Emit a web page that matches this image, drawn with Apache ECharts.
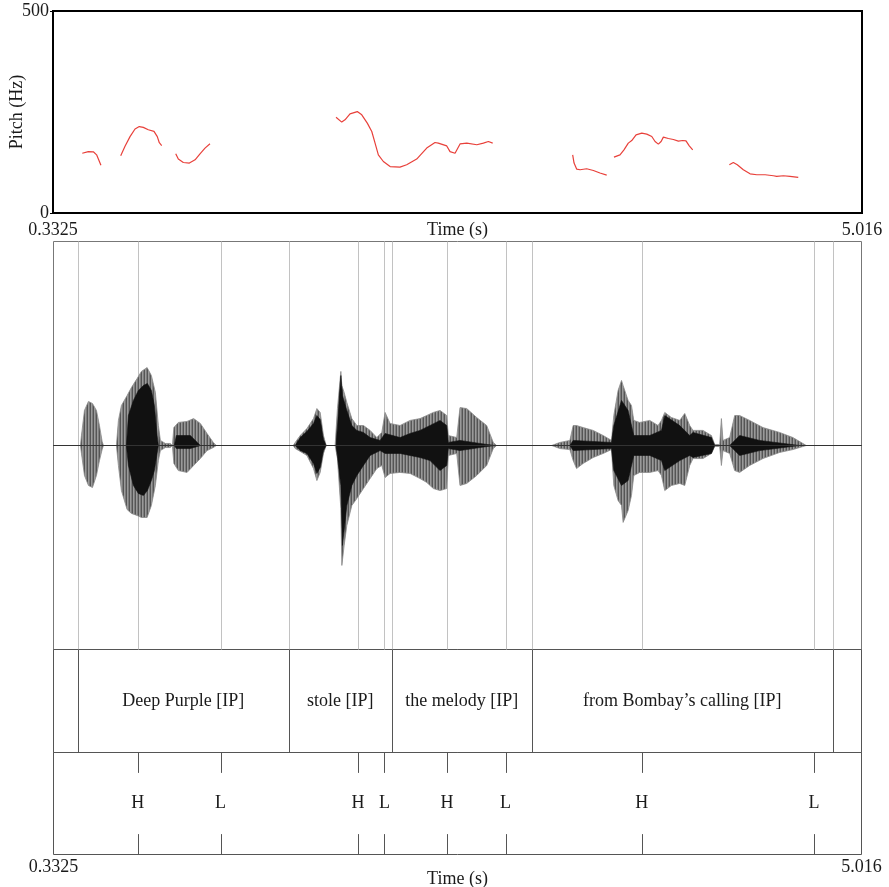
<!DOCTYPE html>
<html><head><meta charset="utf-8">
<script src="https://cdn.jsdelivr.net/npm/echarts@6/dist/echarts.min.js"></script>
<style>html,body{margin:0;padding:0;background:#fff}#c{width:889px;height:887px}</style>
</head><body><div id="c"></div>
<script>
// ---------- data ----------
const tMin = 0.3325, tMax = 5.016;
const timeTickLabels = ['0.3325', '5.016'];
const pitchTickValues = [0, 500];

// pitch contours (null = gap)
const pitchTime = [0.502,0.537,0.566,0.585,0.597,0.610, null,
  0.7245,0.7494,0.7784,0.8073,0.832,0.8553,0.8842,0.9172,0.9363,0.948,0.9618, null,
  1.043,1.058,1.087,1.122,1.155,1.1835,1.2125,1.2414, null,
  1.971,2.004,2.023,2.052,2.094,2.120,2.152,2.178,2.197,2.216,2.245,2.284,2.341,2.380,2.438,2.496,2.544,2.563,2.612,2.631,2.660,2.689,2.728,2.786,2.824,2.853,2.878, null,
  3.341,3.349,3.364,3.384,3.422,3.461,3.499,3.538, null,
  3.580,3.615,3.638,3.663,3.683,3.708,3.741,3.770,3.799,3.818,3.837,3.853,3.866,3.895,3.924,3.953,3.978,3.997,4.016,4.036, null,
  4.248,4.271,4.294,4.329,4.368,4.407,4.455,4.503,4.522,4.561,4.599,4.647];
const pitchHz = [148,152,151.5,144,132,118, null,
  142,165,189,208,214,212,206,202,189,174,167, null,
  146.6,133.5,125,123.6,131.7,146.6,160.6,171.3, null,
  237,225,230.6,245.4,251,243,222.4,201.7,173,144,127.5,115,113.7,119.4,133.5,160.6,174.5,173,166,152,148,171,173,169,173,177,173, null,
  144,123.6,108.7,107,109.5,105.3,98.9,93.9, null,
  138.4,144,156.4,173,179.4,193.5,197.7,195.3,189.3,177,170.5,177,187.8,184.4,182,178,179.4,178.7,166.3,156.4, null,
  119.4,125,119.4,107,97,94.7,94.7,92.2,90.5,92.2,90.5,88];

// waveform outer envelope (relative amplitude)
const waveTime = [0.3325,
  0.4888,0.4946,0.5120,0.5351,0.5583,0.5814,0.5988,0.6144,0.6220,
  0.6972,0.7088,0.7262,0.7592,0.7841,0.8171,0.8420,0.8750,0.8999,0.9230,0.9404,0.9520,0.9810,1.0099,1.0215,
  1.0302,1.0562,1.1066,1.1448,1.1836,1.2224,1.2588,1.2762,
  1.7220,1.7336,1.7625,1.8013,1.8395,1.8592,1.8783,1.8974,1.9130,
  1.9650,1.9784,1.9981,2.0039,2.0172,2.0328,2.0618,2.0907,2.1290,2.1677,2.2065,2.2355,2.2546,2.2835,2.3414,2.3993,2.4572,2.4960,2.5342,2.5730,2.6118,2.6210,2.6697,2.6888,2.7276,2.7855,2.8434,2.8816,2.9012,
  3.2197,3.2677,3.3256,3.3447,3.3644,3.4026,3.4605,3.5184,3.5670,3.5803,3.6052,3.6249,3.6342,3.6631,3.6828,3.6961,3.7309,3.7888,3.8368,3.8565,3.8756,3.9144,3.9624,3.9914,4.0203,4.0394,4.0973,4.1460,4.1651,4.1940,4.2039,4.2131,4.2519,4.2809,4.3098,4.3677,4.4447,4.5414,4.6184,4.6960,
  5.016];
const waveUpper = [0,
  0,0.049,0.172,0.216,0.206,0.172,0.098,0.020,0,
  0,0.123,0.196,0.245,0.284,0.328,0.363,0.382,0.343,0.260,0.098,0.025,0.010,0.010,0,
  0.088,0.113,0.118,0.132,0.108,0.059,0.015,0,
  0,0.015,0.049,0.083,0.132,0.181,0.162,0.049,0,
  0,0.181,0.363,0.294,0.260,0.211,0.132,0.098,0.098,0.074,0.039,0.064,0.162,0.108,0.098,0.123,0.132,0.147,0.162,0.172,0.147,0.049,0.039,0.186,0.181,0.137,0.098,0.015,0,
  0,0.015,0.025,0.098,0.098,0.088,0.074,0.049,0.025,0.147,0.270,0.319,0.294,0.221,0.196,0.123,0.113,0.123,0.098,0.123,0.162,0.137,0.123,0.157,0.098,0.074,0.074,0.049,0.005,0.005,0.132,0.025,0.039,0.147,0.147,0.123,0.088,0.064,0.039,0,
  0];
const waveLower = [0,
  0,-0.039,-0.147,-0.196,-0.206,-0.147,-0.074,-0.020,0,
  0,-0.098,-0.221,-0.314,-0.333,-0.343,-0.353,-0.353,-0.294,-0.196,-0.074,-0.025,-0.010,-0.010,0,
  -0.088,-0.123,-0.132,-0.098,-0.064,-0.025,-0.010,0,
  0,-0.015,-0.029,-0.049,-0.113,-0.172,-0.132,-0.039,0,
  0,-0.064,-0.309,-0.588,-0.490,-0.392,-0.294,-0.260,-0.211,-0.162,-0.113,-0.098,-0.157,-0.137,-0.132,-0.137,-0.162,-0.181,-0.211,-0.221,-0.211,-0.049,-0.039,-0.196,-0.186,-0.147,-0.098,-0.015,0,
  0,-0.015,-0.020,-0.074,-0.113,-0.088,-0.059,-0.039,-0.020,-0.196,-0.270,-0.294,-0.377,-0.319,-0.245,-0.147,-0.132,-0.132,-0.123,-0.147,-0.221,-0.196,-0.186,-0.196,-0.098,-0.064,-0.064,-0.039,-0.005,-0.005,-0.098,-0.025,-0.039,-0.123,-0.132,-0.098,-0.064,-0.034,-0.020,0,
  0];

// waveform dense (dark) core envelope
const coreTime = [0.3325,
  0.7551,0.7667,0.7957,0.8246,0.8536,0.8767,0.8999,0.9172,0.9329,0.9404,
  1.0330,1.0446,1.1257,1.1662,1.1836,
  1.7336,1.7625,1.8013,1.8395,1.8592,1.8783,1.8974,1.9130,
  1.9709,1.9981,2.0073,2.0328,2.0618,2.0907,2.1290,2.1677,2.2256,2.2546,2.3414,2.3993,2.4572,2.5151,2.5730,2.6118,2.6210,2.6888,2.8045,2.8914,
  3.3256,3.3447,3.5670,3.5803,3.6249,3.6631,3.6961,3.7888,3.8565,3.8756,3.9624,4.0203,4.0394,4.1460,4.1651,4.2519,4.3098,4.4256,4.6572,
  5.016];
const coreUpper = [0,
  0,0.147,0.221,0.270,0.294,0.304,0.270,0.196,0.049,0,
  0,0.049,0.049,0.015,0,
  0,0.039,0.069,0.108,0.147,0.127,0.029,0,
  0,0.343,0.245,0.172,0.098,0.074,0.064,0.039,0.025,0.059,0.039,0.059,0.074,0.098,0.123,0.098,0.015,0.025,0.010,0,
  0,0.025,0.015,0.098,0.221,0.172,0.049,0.049,0.074,0.147,0.098,0.049,0.064,0.039,0,0,0.049,0.025,0,
  0];
const coreLower = [0,
  0,-0.098,-0.196,-0.235,-0.245,-0.221,-0.172,-0.123,-0.039,0,
  0,-0.015,-0.015,-0.005,0,
  0,-0.025,-0.039,-0.088,-0.137,-0.108,-0.025,0,
  0,-0.196,-0.490,-0.294,-0.196,-0.147,-0.098,-0.049,-0.025,-0.039,-0.039,-0.049,-0.059,-0.074,-0.123,-0.098,-0.015,-0.025,-0.010,0,
  0,-0.025,-0.015,-0.123,-0.196,-0.172,-0.049,-0.049,-0.074,-0.123,-0.074,-0.049,-0.059,-0.039,0,0,-0.049,-0.025,0,
  0];

// TextGrid tiers
const wordBounds = [0.473, 1.695, 2.293, 3.104, 4.850];
const wordLabels = ['', 'Deep Purple [IP]', 'stole [IP]', 'the melody [IP]', 'from Bombay\u2019s calling [IP]', ''];
const toneTimes = [0.8205, 1.301, 2.097, 2.251, 2.613, 2.953, 3.742, 4.740];
const toneLabels = ['H', 'L', 'H', 'L', 'H', 'L', 'H', 'L'];

// ---------- chart ----------
const FONT = '"Liberation Serif","Times New Roman",serif';
const TXT = '#1a1a1a';
const chart = echarts.init(document.getElementById('c'), null, {renderer: 'canvas'});

// striated fill pattern imitating dense glottal pulses
const pat = document.createElement('canvas');
pat.width = 3; pat.height = 4;
(function () {
  const g = pat.getContext('2d');
  g.fillStyle = '#9a9a9a'; g.fillRect(0, 0, 3, 4);
  g.fillStyle = '#555'; g.fillRect(0, 0, 1, 4);
  g.fillStyle = '#7c7c7c'; g.fillRect(2, 0, 1, 4);
})();
const waveFill = {image: pat, repeat: 'repeat'};

const pitchData = pitchTime.map((t, i) => t === null ? '-' : [t, pitchHz[i]]);
const zip = (a, b) => a.map((t, i) => [t, b[i]]);
const crisp = v => Math.round(v) + 0.5;

const wordEdges = [tMin].concat(wordBounds, [tMax]);
const wordIntervals = wordLabels.map((l, i) => [wordEdges[i], wordEdges[i + 1], i]);
const allBounds = wordBounds.concat(toneTimes);

function hiddenX(g) {
  return {gridIndex: g, type: 'value', min: tMin, max: tMax, show: false};
}
function timeAxis(g, margin, gap) {
  return {
    gridIndex: g, type: 'value', min: tMin, max: tMax,
    axisLine: {show: false}, axisTick: {show: false}, splitLine: {show: false},
    axisLabel: {
      show: true, customValues: [tMin, tMax], margin: margin,
      formatter: v => (Math.abs(v - tMin) < 1e-6 ? timeTickLabels[0] : timeTickLabels[1]),
      fontFamily: FONT, fontSize: 18, color: TXT
    },
    name: 'Time (s)', nameLocation: 'middle', nameGap: gap, nameMoveOverlap: false,
    nameTextStyle: {fontFamily: FONT, fontSize: 18, color: TXT}
  };
}

const option = {
  animation: false,
  backgroundColor: '#fff',
  grid: [
    {left: 53, top: 11, width: 809, height: 202, show: true, borderColor: '#000', borderWidth: 2, backgroundColor: 'transparent', outerBoundsMode: 'none', containLabel: false},
    {left: 53.5, top: 241.5, width: 808, height: 408, show: true, borderColor: '#777', borderWidth: 1, backgroundColor: 'transparent', outerBoundsMode: 'none', containLabel: false},
    {left: 53.5, top: 649.5, width: 808, height: 103, show: true, borderColor: '#555', borderWidth: 1, backgroundColor: 'transparent', outerBoundsMode: 'none', containLabel: false},
    {left: 53.5, top: 752.5, width: 808, height: 102, show: true, borderColor: '#555', borderWidth: 1, backgroundColor: 'transparent', outerBoundsMode: 'none', containLabel: false}
  ],
  xAxis: [timeAxis(0, 8, 8), hiddenX(1), hiddenX(2), timeAxis(3, 4, 16)],
  yAxis: [
    {gridIndex: 0, type: 'value', min: 0, max: 500,
     axisLine: {show: false}, splitLine: {show: false},
     axisTick: {show: true, customValues: pitchTickValues, length: 3, lineStyle: {color: '#000', width: 1}},
     axisLabel: {show: true, customValues: pitchTickValues, margin: 4, fontFamily: FONT, fontSize: 18, color: TXT},
     name: 'Pitch (Hz)', nameLocation: 'middle', nameGap: 27, nameMoveOverlap: false,
     nameTextStyle: {fontFamily: FONT, fontSize: 18, color: TXT}},
    {gridIndex: 1, type: 'value', min: -1, max: 1, show: false},
    {gridIndex: 2, type: 'value', min: 0, max: 1, show: false},
    {gridIndex: 3, type: 'value', min: 0, max: 1, show: false}
  ],
  series: [
    // pitch
    {type: 'line', xAxisIndex: 0, yAxisIndex: 0, data: pitchData, symbol: 'none', connectNulls: false,
     lineStyle: {color: '#e8403a', width: 1.2}, silent: true, z: 3},
    // boundary guide lines in the waveform panel
    {type: 'custom', xAxisIndex: 1, yAxisIndex: 1, data: allBounds.map(t => [t, 0]), encode: {x: 0, y: 1}, z: 1,
     renderItem: (p, api) => {
       const a = api.coord([api.value(0), 1]), b = api.coord([api.value(0), -1]);
       const x = crisp(a[0]);
       return {type: 'line', shape: {x1: x, y1: a[1], x2: x, y2: b[1]}, style: {stroke: '#c2c2c2', lineWidth: 1}};
     }},
    // waveform outer envelope
    {type: 'line', xAxisIndex: 1, yAxisIndex: 1, data: zip(waveTime, waveUpper), symbol: 'none', z: 2,
     lineStyle: {color: '#8a8a8a', width: 0.8}, areaStyle: {color: waveFill, opacity: 1, origin: 'auto'}, silent: true},
    {type: 'line', xAxisIndex: 1, yAxisIndex: 1, data: zip(waveTime, waveLower), symbol: 'none', z: 2,
     lineStyle: {color: '#8a8a8a', width: 0.8}, areaStyle: {color: waveFill, opacity: 1, origin: 'auto'}, silent: true},
    // waveform dark core
    {type: 'line', xAxisIndex: 1, yAxisIndex: 1, data: zip(coreTime, coreUpper), symbol: 'none', z: 3,
     lineStyle: {color: '#111', width: 0.6}, areaStyle: {color: '#111', opacity: 1, origin: 'auto'}, silent: true},
    {type: 'line', xAxisIndex: 1, yAxisIndex: 1, data: zip(coreTime, coreLower), symbol: 'none', z: 3,
     lineStyle: {color: '#111', width: 0.6}, areaStyle: {color: '#111', opacity: 1, origin: 'auto'}, silent: true,
     markLine: {silent: true, symbol: ['none', 'none'], label: {show: false}, z: 4,
       lineStyle: {color: '#333', width: 1, type: 'solid'}, data: [{yAxis: 0}]}},
    // word tier: boundaries
    {type: 'custom', xAxisIndex: 2, yAxisIndex: 2, data: wordBounds.map(t => [t, 0]), encode: {x: 0, y: 1}, z: 2,
     renderItem: (p, api) => {
       const a = api.coord([api.value(0), 1]), b = api.coord([api.value(0), 0]);
       const x = crisp(a[0]);
       return {type: 'line', shape: {x1: x, y1: a[1], x2: x, y2: b[1]}, style: {stroke: '#555', lineWidth: 1}};
     }},
    // word tier: labels
    {type: 'custom', xAxisIndex: 2, yAxisIndex: 2, data: wordIntervals, encode: {x: [0, 1]}, z: 3,
     renderItem: (p, api) => {
       const c = api.coord([(api.value(0) + api.value(1)) / 2, 0.5]);
       return {type: 'text', x: c[0], y: c[1],
         style: {text: wordLabels[api.value(2)], fontFamily: FONT, fontSize: 18, fill: TXT, align: 'center', verticalAlign: 'middle'}};
     }},
    // tone tier
    {type: 'custom', xAxisIndex: 3, yAxisIndex: 3, data: toneTimes.map((t, i) => [t, i]), encode: {x: 0}, z: 3,
     renderItem: (p, api) => {
       const top = api.coord([api.value(0), 1]), bot = api.coord([api.value(0), 0]), mid = api.coord([api.value(0), 0.5]);
       const x = crisp(top[0]);
       const h = (bot[1] - top[1]) * 0.2;
       return {type: 'group', children: [
         {type: 'line', shape: {x1: x, y1: top[1], x2: x, y2: top[1] + h}, style: {stroke: '#555', lineWidth: 1}},
         {type: 'line', shape: {x1: x, y1: bot[1] - h, x2: x, y2: bot[1]}, style: {stroke: '#555', lineWidth: 1}},
         {type: 'text', x: mid[0], y: mid[1], style: {text: toneLabels[api.value(1)], fontFamily: FONT, fontSize: 18, fill: TXT, align: 'center', verticalAlign: 'middle'}}
       ]};
     }}
  ]
};
chart.setOption(option);
</script>
</body></html>
